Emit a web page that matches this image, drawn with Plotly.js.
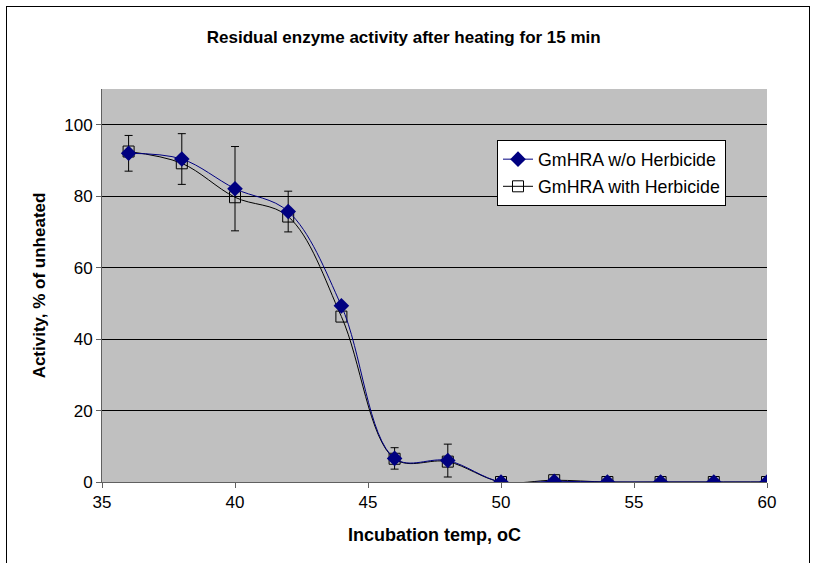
<!DOCTYPE html>
<html><head><meta charset="utf-8">
<script src="https://cdn.plot.ly/plotly-3.0.1.min.js"></script>
<style>
html,body{margin:0;padding:0;background:#fff;}
#frame{position:absolute;left:6px;top:6px;width:804px;height:620px;border:1px solid #000;box-sizing:border-box;pointer-events:none;z-index:10;}
#chart{position:absolute;left:0;top:0;width:814px;height:563px;}
</style></head>
<body>
<div id="chart"></div>
<div id="frame"></div>
<script>
const temps = [36, 38, 40, 42, 44, 46, 48, 50, 52, 54, 56, 58, 60];
const withoutHerbicide = [92, 90.4, 82.1, 75.7, 49.3, 6.6, 6.0, 0, 0.2, 0, 0, 0, 0];
const withHerbicide = [92.5, 89.2, 79.7, 74.3, 46.3, 6.5, 5.7, 0, 0.5, 0, 0, 0, 0];
const errWithout = [5, 7.1, 11.8, 5.7, 0, 3, 4.6, 0, 0, 0, 0, 0, 0];

const traces = [
  {
    x: temps, y: withHerbicide, name: 'GmHRA with Herbicide', type: 'scatter', mode: 'lines+markers',
    legendgroup: 'b', legendrank: 2,
    line: {color: '#000000', width: 1, shape: 'spline', smoothing: 1},
    marker: {symbol: 'square-open', size: 11, color: '#000000', line: {width: 1, color: '#000000'}}
  },
  {
    x: temps, y: withoutHerbicide, name: 'GmHRA w/o Herbicide', type: 'scatter', mode: 'lines+markers',
    legendgroup: 'a', legendrank: 1,
    line: {color: '#000080', width: 1, shape: 'spline', smoothing: 1},
    marker: {symbol: 'diamond', size: 12, color: '#000080'},
    error_y: {type: 'data', array: errWithout, visible: true, color: '#000000', thickness: 1, width: 4}
  }
];

const layout = {
  width: 814, height: 563,
  margin: {l: 102, r: 47, t: 89, b: 81},
  paper_bgcolor: 'rgba(0,0,0,0)',
  plot_bgcolor: '#C0C0C0',
  font: {family: 'Liberation Sans, Arial, sans-serif', size: 17, color: '#000'},
  title: {text: '<b>Residual enzyme activity after heating for 15 min</b>', font: {size: 17}, x: 0.496, xanchor: 'center', y: 0.934, yanchor: 'middle'},
  xaxis: {
    range: [35, 60], tickvals: [35, 40, 45, 50, 55, 60], showgrid: false, zeroline: false,
    showline: true, linecolor: '#606060', linewidth: 1, ticks: 'outside', ticklen: 5, tickcolor: '#606060',
    title: {text: '<b>Incubation temp, oC</b>', font: {size: 18}, standoff: 16}
  },
  yaxis: {
    range: [0, 110], tickvals: [0, 20, 40, 60, 80, 100], showgrid: true, gridcolor: '#000000', gridwidth: 1,
    zeroline: false, showline: true, linecolor: '#606060', linewidth: 1, ticks: 'outside', ticklen: 5, tickcolor: '#606060',
    title: {text: '<b>Activity, % of unheated</b>', font: {size: 17}, standoff: 14}
  },
  legend: {
    x: 0.594, y: 0.87, xanchor: 'left', yanchor: 'top', bgcolor: '#FFFFFF', bordercolor: '#000000', borderwidth: 1,
    traceorder: 'grouped', tracegroupgap: 1, font: {size: 17.8}
  },
  showlegend: true
};

Plotly.newPlot('chart', traces, layout, {displayModeBar: false, staticPlot: true});
</script>
</body></html>
